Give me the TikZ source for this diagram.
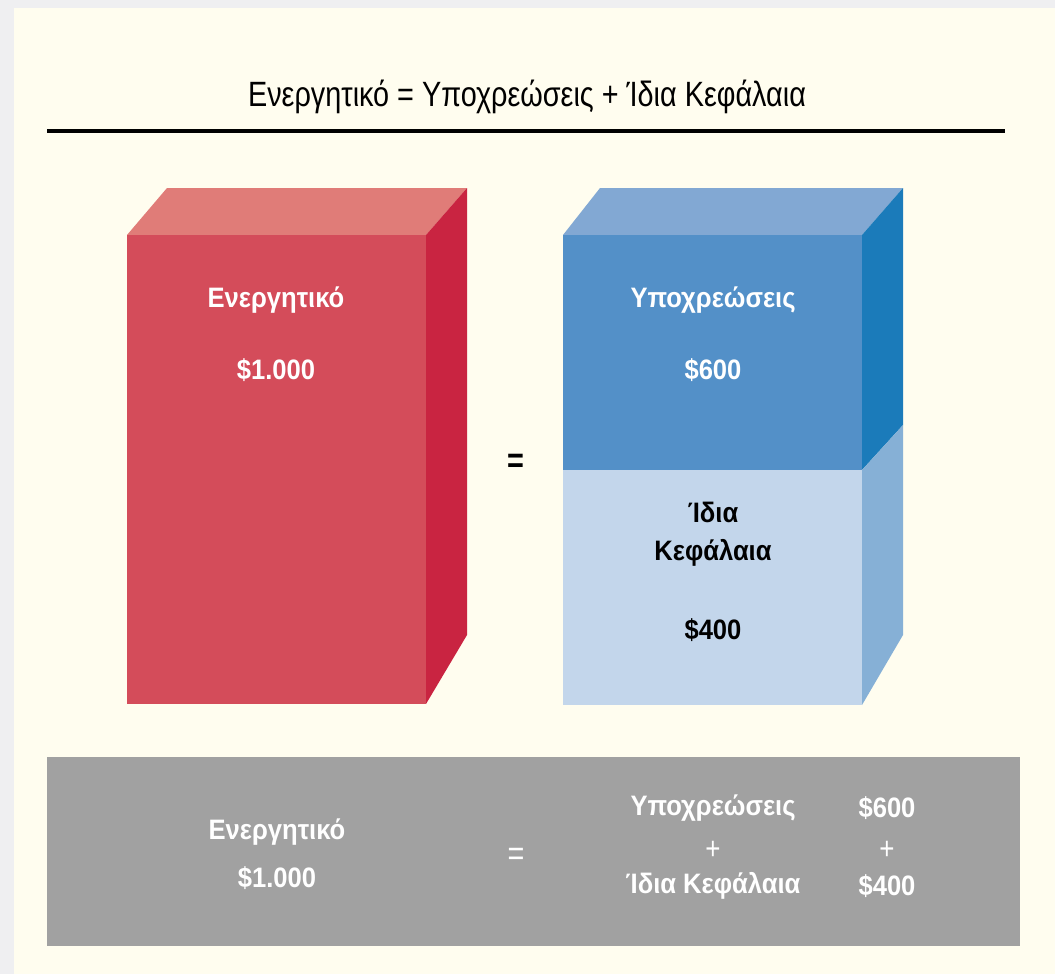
\documentclass[tikz,border=0pt]{standalone}
\usepackage{fontspec}
\setmainfont[FakeStretch=0.82]{Liberation Sans}
\newfontfamily\labelfont[FakeStretch=0.91]{Liberation Sans}
\definecolor{outerbg}{HTML}{EFEFF1}
\definecolor{cream}{HTML}{FFFDEF}
\definecolor{redfront}{HTML}{D44C5A}
\definecolor{redtop}{HTML}{E07C78}
\definecolor{redside}{HTML}{C92441}
\definecolor{bluefront}{HTML}{5390C8}
\definecolor{bluetop}{HTML}{82A8D3}
\definecolor{bluedark}{HTML}{1B7BBA}
\definecolor{bluepale}{HTML}{C3D6EB}
\definecolor{bluelight}{HTML}{86B0D6}
\definecolor{panelgray}{HTML}{A1A1A1}

\begin{document}
\begin{tikzpicture}[x=0.02cm,y=-0.02cm,
  boxtext/.style={font=\labelfont\bfseries\fontsize{16}{21.5}\selectfont,align=center},
  sumtext/.style={font=\labelfont\bfseries\fontsize{16}{27}\selectfont,text=white,align=center}]
            \useasboundingbox (0,0) rectangle (1055,974);
            \fill[outerbg] (0,0) rectangle (1055,974);
            \fill[cream] (14,8) rectangle (1055,974);
            \node[font=\fontsize{20}{24}\selectfont] (title) at (527,97) {Ενεργητικό = Υποχρεώσεις + Ίδια Κεφάλαια};
            \draw[line width=2.2pt] (47,131) -- (1005,131);
            \fill[redtop] (127,235) -- (167,188) -- (467,188) -- (426,235) -- cycle;
            \fill[redside] (426,235) -- (467,188) -- (467,635) -- (426,704) -- cycle;
            \fill[redfront] (127,235) rectangle (426,704);
            \fill[bluetop] (563,235) -- (600,188) -- (903,188) -- (862,235) -- cycle;
            \fill[bluedark] (862,235) -- (903,188) -- (903,425) -- (862,470) -- cycle;
            \fill[bluelight] (862,470) -- (903,425) -- (903,635) -- (862,705) -- cycle;
            \fill[bluefront] (563,235) rectangle (862,470);
            \fill[bluepale] (563,470) rectangle (862,705);
            \node[boxtext,text=white] (assets) at (276,300) {Ενεργητικό};
            \node[boxtext,text=white] (assetsval) at (276,370) {\$1.000};
            \node[boxtext,text=white] (liab) at (713,300) {Υποχρεώσεις};
            \node[boxtext,text=white] (liabval) at (713,370) {\$600};
            \node[font=\bfseries\fontsize{20}{24}\selectfont] (eq) at (516,463) {=};
            \node[boxtext] (equity) at (713,534) {Ίδια\\Κεφάλαια};
            \node[boxtext] (equityval) at (713,630) {\$400};
            \fill[panelgray] (47,757) rectangle (1020,946);
            \node[sumtext] (sumassets) at (277,854) {Ενεργητικό\\\$1.000};
            \node[sumtext,font=\fontsize{20}{24}\selectfont] (sumeq) at (516,857) {=};
            \node[sumtext] (sumliab) at (713,808) {Υποχρεώσεις};
            \node[sumtext,font=\fontsize{18}{20}\selectfont] (sumplus) at (713,850) {+};
            \node[sumtext] (sumequity) at (713,886) {Ίδια Κεφάλαια};
            \node[sumtext] (sumsix) at (887,808) {\$600};
            \node[sumtext,font=\fontsize{18}{20}\selectfont] (sumplustwo) at (887,850) {+};
            \node[sumtext] (sumfour) at (887,886) {\$400};
\end{tikzpicture}
\end{document}
